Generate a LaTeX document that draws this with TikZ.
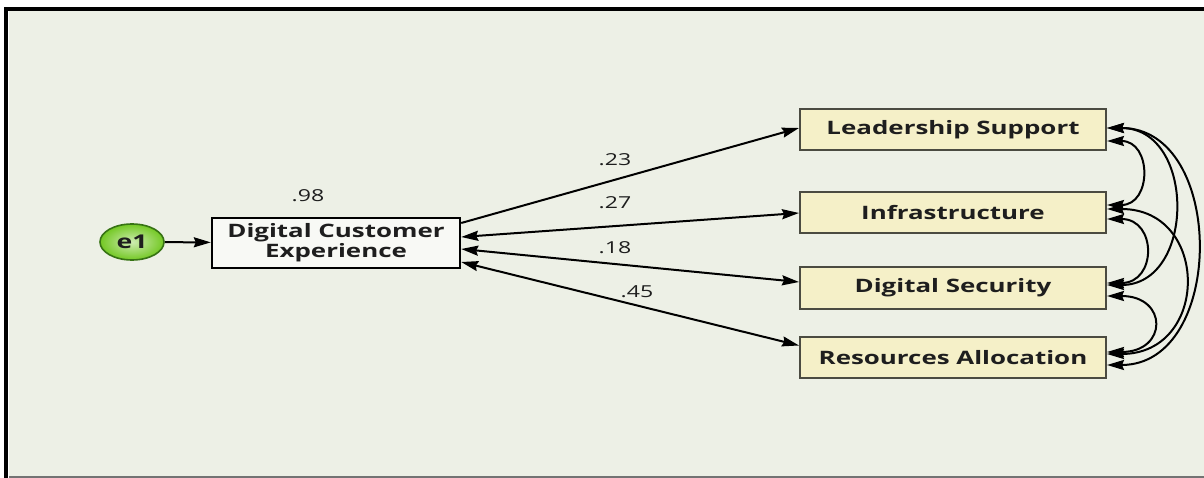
\documentclass[tikz,border=0pt]{standalone}
\usepackage{fontspec}
\setmainfont{Open Sans}[FakeStretch=1.4]
\usetikzlibrary{arrows.meta,shapes.geometric}

\definecolor{bgpaper}{RGB}{237,240,230}
\definecolor{factorfill}{RGB}{245,240,200}
\definecolor{factorline}{RGB}{75,75,65}
\definecolor{errgreen}{RGB}{115,200,35}
\definecolor{errline}{RGB}{55,115,20}
\definecolor{inkgray}{RGB}{30,30,30}

\begin{document}
\begin{tikzpicture}[x=1pt,y=-1pt,
    >={Stealth[length=17pt,width=10pt,inset=2pt]},
    obsbox/.style={draw=black,line width=2.4pt,fill=white!60!bgpaper,minimum width=248pt,minimum height=50pt,align=center,text=inkgray,font=\bfseries\fontsize{18.5}{20}\selectfont},
    factor/.style={draw=factorline,line width=2pt,fill=factorfill,minimum width=306pt,minimum height=41pt,text=inkgray,font=\bfseries\fontsize{18.5}{20}\selectfont},
    errnode/.style={ellipse,draw=errline,line width=1.6pt,inner color=errgreen!35!white,outer color=errgreen,minimum width=64pt,minimum height=36pt,text=inkgray,font=\bfseries\fontsize{19}{20}\selectfont},
    reg/.style={line width=2pt,->},
    cov/.style={line width=2pt,<->},
    lbl/.style={text=inkgray,font=\fontsize{16.5}{18}\selectfont}]

    \useasboundingbox (0,0) rectangle (1204,478);

    % Frame
    \fill[bgpaper] (9,11) rectangle (1204,476);
    \draw[black!55,line width=1.5pt] (9,477) -- (1204,477);
    \draw[black,line width=4pt] (6,478) -- (6,9) -- (1204,9);

    % Nodes
    \node[errnode] (e1) at (132,242) {e1};
    \node[obsbox] (dce) at (336,243) {Digital Customer\\Experience};
    \node[factor] (ls) at (953,129.5) {Leadership Support};
    \node[factor] (inf) at (953,213) {Infrastructure};
    \node[factor] (ds) at (953,288) {Digital Security};
    \node[factor] (ra) at (953,357.5) {Resources Allocation};

    % Error term
    \draw[reg] (e1) -- (dce);

    % Paths to the factors
    \draw[reg] ([yshift=20pt]dce.east) -- ([yshift=1.5pt]ls.west);
    \draw[cov] ([yshift=6pt]dce.east) -- (inf.west);
    \draw[cov] ([yshift=-6pt]dce.east) -- ([yshift=6pt]ds.west);
    \draw[cov] ([yshift=-19pt]dce.east) -- ([yshift=12pt]ra.west);

    % Coefficients
    \node[lbl] (r98) at (308,196) {.98};
    \node[lbl] (r23) at (615,160) {.23};
    \node[lbl] (r27) at (615,203) {.27};
    \node[lbl] (r18) at (615,248) {.18};
    \node[lbl] (r45) at (637,292) {.45};

    % Covariances between factors
    \draw[cov] ([yshift=-11.5pt]ls.east) .. controls +(45,0) and +(45,0) .. ([yshift=8pt]inf.east);
    \draw[cov] ([yshift=-6pt]inf.east) .. controls +(50,0) and +(50,0) .. ([yshift=5pt]ds.east);
    \draw[cov] ([yshift=-8pt]ds.east) .. controls +(61,0) and +(61,0) .. ([yshift=5.5pt]ra.east);
    \draw[cov] ([yshift=1.5pt]ls.east) .. controls +(89,0) and +(89,0) .. ([yshift=3pt]ds.east);
    \draw[cov] ([yshift=4pt]inf.east) .. controls +(103,0) and +(103,0) .. ([yshift=3.5pt]ra.east);
    \draw[cov] ([yshift=1.5pt]ls.east) .. controls +(119,0) and +(119,0) .. ([yshift=-7.5pt]ra.east);
\end{tikzpicture}
\end{document}
